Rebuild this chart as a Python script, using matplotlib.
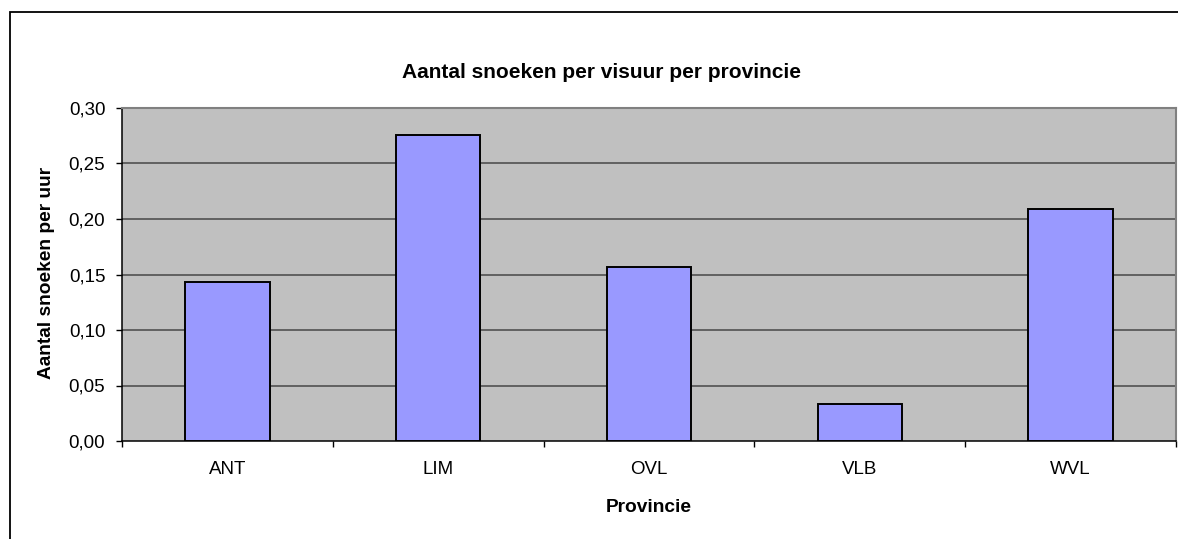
import matplotlib.pyplot as plt
from matplotlib.patches import Rectangle
from matplotlib.ticker import FixedLocator, FuncFormatter

plt.rcParams['font.family'] = ['Liberation Sans', 'DejaVu Sans']

provincies = ['ANT', 'LIM', 'OVL', 'VLB', 'WVL']
snoeken_per_uur = [0.143, 0.276, 0.157, 0.033, 0.209]
yticks = [0.00, 0.05, 0.10, 0.15, 0.20, 0.25, 0.30]

W, H = 1178, 539
fig = plt.figure(figsize=(W / 100, H / 100), dpi=100)

# outer chart frame (right and bottom fall outside the picture)
fig.patches.append(Rectangle((10 / W, -0.05), 1.2, (H - 12) / H + 0.05,
                             transform=fig.transFigure, fill=False,
                             edgecolor='black', lw=1.3))

ax = fig.add_axes([122 / W, (H - 441) / H, (1176 - 122) / W, (441 - 108) / H])
ax.set_facecolor('#C0C0C0')

x = range(len(provincies))
ax.bar(x, snoeken_per_uur, width=0.4, color='#9999FF', edgecolor='black',
       linewidth=1.4, zorder=3)

ax.set_xlim(-0.5, len(provincies) - 0.5)
ax.set_ylim(0, 0.30)
ax.set_yticks(yticks)
ax.yaxis.set_major_formatter(FuncFormatter(lambda v, p: f'{v:.2f}'.replace('.', ',')))
for v in yticks[1:-1]:
    ax.axhline(v, color='#5a5a5a', lw=1.3, zorder=1)

# ticks on category borders, labels in the middle
ax.xaxis.set_major_locator(FixedLocator([i - 0.5 for i in range(len(provincies) + 1)]))
ax.xaxis.set_minor_locator(FixedLocator(list(x)))
ax.set_xticklabels([], minor=False)
ax.set_xticklabels(provincies, minor=True)
ax.tick_params(axis='x', which='major', length=4, width=1, color='black', direction='out')
ax.tick_params(axis='x', which='minor', length=0, pad=14.5, labelsize=13.5)
ax.tick_params(axis='y', length=4, width=1, color='black', pad=8, labelsize=13.5)

for s in ['left', 'bottom']:
    ax.spines[s].set_color('black')
    ax.spines[s].set_linewidth(1.1)
for s in ['top', 'right']:
    ax.spines[s].set_color('#808080')
    ax.spines[s].set_linewidth(1.5)

fig.text(601 / W, 1 - 72 / H, 'Aantal snoeken per visuur per provincie',
         ha='center', va='center', fontsize=15, fontweight='bold')
fig.text(649 / W, 1 - 508 / H, 'Provincie', ha='center', va='center',
         fontsize=13.8, fontweight='bold')
fig.text(47 / W, 1 - 273 / H, 'Aantal snoeken per uur', ha='center', va='center',
         rotation=90, fontsize=13.8, fontweight='bold')

fig.savefig('out.png', dpi=100)
